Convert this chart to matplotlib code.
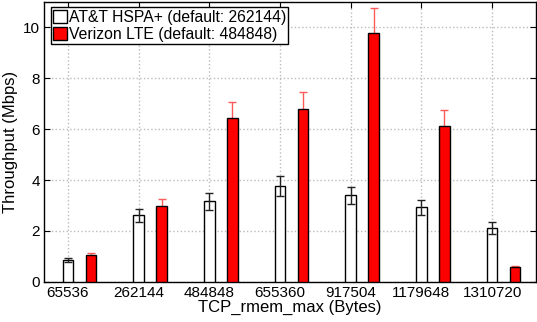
import numpy as np
import matplotlib
matplotlib.use('Agg')
import matplotlib.pyplot as plt

plt.rcParams['font.family'] = ['Liberation Sans', 'DejaVu Sans']

# buffer sizes (x tick labels)
buf_sizes = ['65536', '262144', '484848', '655360', '917504', '1179648', '1310720']

# mean throughput and error (Mbps)
att_mean = [0.87, 2.62, 3.16, 3.75, 3.40, 2.92, 2.12]
att_err = [0.08, 0.26, 0.32, 0.39, 0.33, 0.31, 0.23]
vzw_mean = [1.05, 2.97, 6.45, 6.79, 9.79, 6.13, 0.59]
vzw_err = [0.10, 0.29, 0.63, 0.68, 0.99, 0.63, 0.04]

x = np.arange(len(buf_sizes))
w = 0.15
off = 0.325

fig = plt.figure(figsize=(5.37, 3.22), dpi=100)
ax = fig.add_axes([0.0825, 0.125, 0.9155, 0.8688])

ax.bar(x, att_mean, w, color='white', edgecolor='black', linewidth=1,
       label='AT&T HSPA+ (default: 262144)', zorder=3)
ax.errorbar(x, att_mean, yerr=att_err, fmt='none', ecolor='#222222',
            elinewidth=1, capsize=3.2, capthick=1, zorder=4)
ax.errorbar(x + off, vzw_mean, yerr=vzw_err, fmt='none', ecolor='#ff5a5a',
            elinewidth=1, capsize=3.2, capthick=1, zorder=2)
ax.bar(x + off, vzw_mean, w, color='red', edgecolor='black', linewidth=1,
       label='Verizon LTE (default: 484848)', zorder=3)

ax.set_xlim(-0.335, 6.62)
ax.set_ylim(0, 11)
ax.set_xticks(x)
ax.set_xticklabels(buf_sizes, fontsize=11)
ax.set_yticks([0, 2, 4, 6, 8, 10])
ax.tick_params(axis='y', labelsize=11)
ax.tick_params(direction='in', top=True, right=True, length=4, pad=3)
ax.grid(True, linestyle=':', color='#bbbbbb', linewidth=1, zorder=0)
ax.set_axisbelow(True)
for s in ax.spines.values():
    s.set_linewidth(1)

ax.set_xlabel('TCP_rmem_max (Bytes)', fontsize=12, labelpad=0)
ax.set_ylabel('Throughput (Mbps)', fontsize=12, labelpad=4)

leg = ax.legend(loc='upper left', bbox_to_anchor=(0.013, 0.981), fontsize=11.3,
                fancybox=False, framealpha=1, edgecolor='black',
                borderaxespad=0, borderpad=0.15, handletextpad=0.1,
                handlelength=0.9, handleheight=0.9, labelspacing=0.15)
leg.get_frame().set_linewidth(1)

fig.savefig('out.png', dpi=100)
